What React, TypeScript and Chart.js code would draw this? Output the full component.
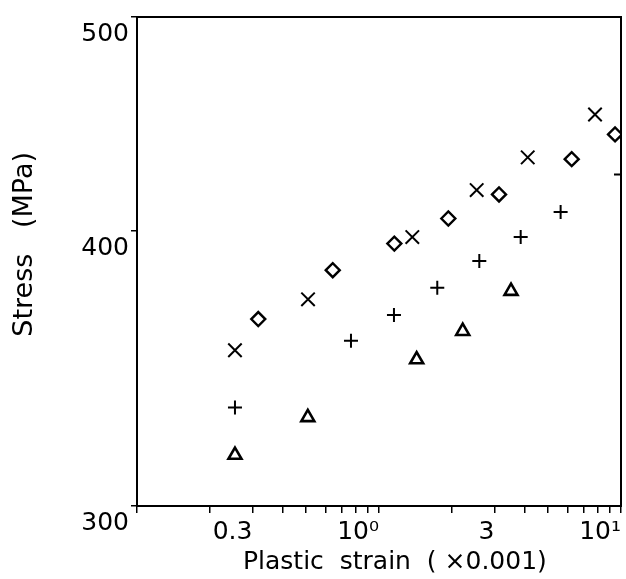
import { useEffect, useRef } from 'react';
import { Chart, registerables } from 'chart.js';

Chart.register(...registerables);

// Series: × markers
const crossX = [0.254, 0.509, 1.373, 2.533, 4.117, 7.81];
const crossY = [353.0, 372.3, 397.3, 417.3, 431.8, 451.6];
// Series: diamond markers
const diamondX = [0.317, 0.644, 1.157, 1.934, 3.133, 6.256, 9.45];
const diamondY = [364.7, 383.8, 394.6, 405.1, 415.4, 431.0, 442.3];
// Series: + markers
const plusX = [0.254, 0.766, 1.153, 1.741, 2.597, 3.85, 5.63, 10.0];
const plusY = [332.5, 356.5, 366.2, 376.8, 387.5, 397.3, 407.9, 424.2];
// Series: triangle markers
const triX = [0.254, 0.508, 1.431, 2.218, 3.512];
const triY = [316.4, 329.1, 349.6, 360.1, 375.5];

// Axis ticks
const xTickValues = [0.1, 0.2, 0.3, 0.4, 0.5, 0.6, 0.7, 0.8, 0.9, 1, 2, 3, 4, 5, 6, 7, 8, 9, 10];
const xLabelValues = [0.3, 1, 3, 10];
const xLabelTexts = ['0.3', '10\u2070', '3', '10\u00B9'];
const yTickValues = [300, 400, 500];
const yLabelTexts = ['300', '400', '500'];

const FONT = 'DejaVu Sans';

function pts(xs: number[], ys: number[]) {
  return xs.map((x, i) => ({ x, y: ys[i] }));
}

const frame = {
  id: 'frame',
  afterDatasetsDraw(chart: any) {
    const { ctx, chartArea: a } = chart;
    ctx.save();
    ctx.strokeStyle = '#000';
    ctx.lineWidth = 2;
    ctx.strokeRect(a.left, a.top, a.right - a.left, a.bottom - a.top);
    ctx.restore();
  },
};

export default function App() {
  const ref = useRef<HTMLCanvasElement>(null);
  useEffect(() => {
    document.body.style.margin = '0';
    const common = {
      borderColor: '#000',
      backgroundColor: '#fff',
      showLine: false,
      clip: 0,
    };
    const chart = new Chart(ref.current!, {
      type: 'scatter',
      data: {
        datasets: [
          { ...common, label: 'x', data: pts(crossX, crossY), pointStyle: 'crossRot', pointRadius: 9.5, borderWidth: 2 },
          { ...common, label: 'd', data: pts(diamondX, diamondY), pointStyle: 'rectRot', pointRadius: 7, borderWidth: 2.4 },
          { ...common, label: 'p', data: pts(plusX, plusY), pointStyle: 'cross', pointRadius: 7, borderWidth: 2 },
          { ...common, label: 't', data: pts(triX, triY), pointStyle: 'triangle', pointRadius: 7.5, borderWidth: 2.6 },
        ],
      },
      options: {
        animation: false,
        responsive: false,
        devicePixelRatio: 1,
        layout: { autoPadding: false, padding: { top: 17, right: 5, left: 0, bottom: 0 } },
        plugins: { legend: { display: false }, tooltip: { enabled: false } },
        scales: {
          x: {
            type: 'logarithmic',
            position: 'bottom',
            min: 0.1,
            max: 10,
            afterBuildTicks: (s: any) => {
              s.ticks = xTickValues.map((v) => ({ value: v }));
            },
            afterFit: (s: any) => {
              s.height = 73;
              s.paddingLeft = 0;
              s.paddingRight = 0;
            },
            ticks: {
              autoSkip: false,
              maxRotation: 0,
              minRotation: 0,
              align: 'end',
              padding: 4,
              color: '#000',
              font: { family: FONT, size: 25 },
              callback: (v: any) => {
                const i = xLabelValues.findIndex((l) => Math.abs(l - Number(v)) < 1e-6);
                return i >= 0 ? xLabelTexts[i] : '';
              },
            },
            grid: { drawOnChartArea: false, drawTicks: true, tickLength: 7, color: '#000', lineWidth: 1.5 },
            border: { display: true, color: '#000', width: 2 },
            title: {
              display: true,
              text: '    Plastic  strain  ( \u00D70.001)',
              color: '#000',
              font: { family: FONT, size: 25 },
              padding: { top: 0, bottom: 2 },
            },
          },
          y: {
            type: 'logarithmic',
            position: 'left',
            min: 300,
            max: 500,
            afterBuildTicks: (s: any) => {
              s.ticks = yTickValues.map((v) => ({ value: v }));
            },
            afterFit: (s: any) => {
              s.width = 137;
              s.paddingTop = 0;
              s.paddingBottom = 0;
            },
            ticks: {
              autoSkip: false,
              align: 'start',
              labelOffset: 5,
              padding: 2,
              color: '#000',
              font: { family: FONT, size: 25 },
              callback: (v: any) => {
                const i = yTickValues.findIndex((l) => Math.abs(l - Number(v)) < 1e-6);
                return i >= 0 ? yLabelTexts[i] : '';
              },
            },
            grid: { drawOnChartArea: false, drawTicks: true, tickLength: 6, color: '#000', lineWidth: 1.5 },
            border: { display: true, color: '#000', width: 2 },
            title: {
              display: true,
              text: '    Stress   (MPa)',
              color: '#000',
              font: { family: FONT, size: 27 },
              padding: { top: 9, bottom: 0 },
            },
          },
        },
      },
      plugins: [frame],
    } as any);
    return () => chart.destroy();
  }, []);
  return <canvas ref={ref} width={626} height={579} style={{ display: 'block' }} />;
}
